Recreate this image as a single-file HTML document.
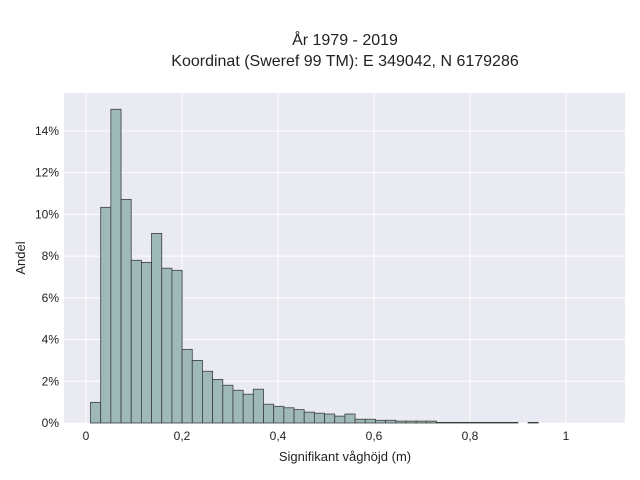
<!DOCTYPE html>
<html><head><meta charset="utf-8"><style>
html,body{margin:0;padding:0;background:#fff;}
svg{display:block;font-family:"Liberation Sans",sans-serif;}
</style></head><body>
<svg id="chart" width="640" height="480">
<text x="345" y="45" text-anchor="middle" font-size="16" fill="#222">År 1979 - 2019</text>
<text x="345" y="66" text-anchor="middle" font-size="16" fill="#222">Koordinat (Sweref 99 TM): E 349042, N 6179286</text>
<rect x="64" y="93" width="561" height="330" fill="#eaeaf2"/>
<g id="grid"></g><g id="bars"></g><g id="ticks"></g>
<text x="345" y="461" text-anchor="middle" font-size="13" fill="#222">Signifikant våghöjd (m)</text>
<text x="25" y="258" text-anchor="middle" font-size="13" fill="#222" transform="rotate(-90 25 258)">Andel</text>
</svg>
<script>
const binStart = 0.0094;
const binWidth = 0.0212;
const shares = [0.99,10.34,15.04,10.72,7.8,7.7,9.09,7.42,7.32,3.53,3.0,2.48,2.09,1.81,1.57,1.38,1.62,0.9,0.8,0.73,0.64,0.52,0.47,0.43,0.33,0.43,0.18,0.18,0.13,0.13,0.09,0.09,0.09,0.09,0.03,0.03,0.03,0.03,0.03,0.03,0.03,0.03,0,0.03];
const xTicks = [0,0.2,0.4,0.6,0.8,1];
const xTickLabels = ["0","0,2","0,4","0,6","0,8","1"];
const yTicks = [0,2,4,6,8,10,12,14];
const yTickLabels = ["0%","2%","4%","6%","8%","10%","12%","14%"];
const NS="http://www.w3.org/2000/svg";
const X = v => 86 + v*480;
const Y = v => 423 - v*20.86;
const grid=document.getElementById('grid'), bars=document.getElementById('bars'), ticks=document.getElementById('ticks');
function mk(tag,attrs,parent){const e=document.createElementNS(NS,tag);for(const k in attrs)e.setAttribute(k,attrs[k]);parent.appendChild(e);return e;}
xTicks.forEach((t,i)=>{
  const l=mk('line',{x1:X(t),x2:X(t),y1:93,y2:423,stroke:'#fff','stroke-width':1},grid);
  
  
  const tx=mk('text',{x:X(t),y:440,'text-anchor':'middle','font-size':12,fill:'#222'},ticks);
  tx.textContent=xTickLabels[i];
  
  
});
yTicks.forEach((t,i)=>{
  const l=mk('line',{x1:64,x2:625,y1:Y(t),y2:Y(t),stroke:'#fff','stroke-width':1},grid);
  
  
  const tx=mk('text',{x:59,y:Y(t)+4,'text-anchor':'end','font-size':12,fill:'#222'},ticks);
  tx.textContent=yTickLabels[i];
  
  
});
shares.forEach((v,i)=>{
  if(v<=0) return;
  const x0=X(binStart+i*binWidth), x1=X(binStart+(i+1)*binWidth);
  const r=mk('rect',{x:x0,y:Y(v),width:x1-x0,height:423-Y(v),fill:'#9fb8b8',stroke:'#3a3f3f','stroke-width':0.8},bars);
  
  
});
</script>
</body></html>
